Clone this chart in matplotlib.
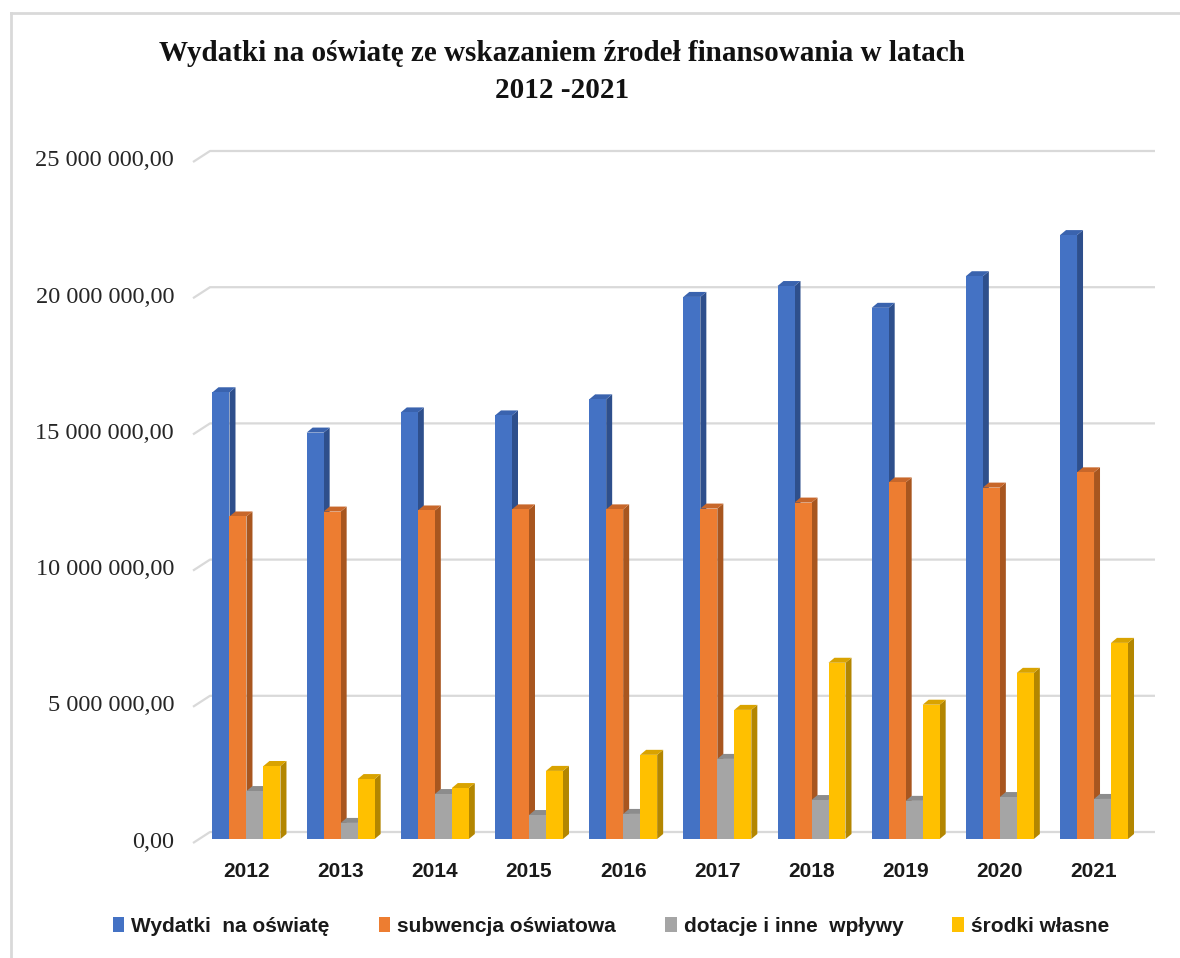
import matplotlib
matplotlib.use("Agg")
import matplotlib.pyplot as plt
from matplotlib.patches import Polygon, Patch
from matplotlib.lines import Line2D
import numpy as np

years = ["2012", "2013", "2014", "2015", "2016", "2017", "2018", "2019", "2020", "2021"]
wydatki = [16.40e6, 14.92e6, 15.66e6, 15.55e6, 16.14e6, 19.90e6, 20.30e6, 19.50e6, 20.66e6, 22.17e6]
subwencja = [11.84e6, 12.02e6, 12.06e6, 12.10e6, 12.10e6, 12.13e6, 12.35e6, 13.09e6, 12.90e6, 13.46e6]
dotacje = [1.76e6, 0.59e6, 1.65e6, 0.88e6, 0.92e6, 2.94e6, 1.43e6, 1.40e6, 1.54e6, 1.47e6]
srodki = [2.68e6, 2.20e6, 1.87e6, 2.50e6, 3.09e6, 4.74e6, 6.47e6, 4.93e6, 6.10e6, 7.20e6]
series_names = ["Wydatki  na oświatę", "subwencja oświatowa", "dotacje i inne  wpływy", "środki własne"]
yticks = [0, 5e6, 10e6, 15e6, 20e6, 25e6]
ytick_labels = ["0,00", "5 000 000,00", "10 000 000,00", "15 000 000,00", "20 000 000,00", "25 000 000,00"]
title = "Wydatki na oświatę ze wskazaniem źrodeł finansowania w latach\n2012 -2021"

front = ["#4472C4", "#ED7D31", "#A5A5A5", "#FFC000"]
side = ["#2E4F8C", "#A8561F", "#737373", "#B38600"]
topc = ["#3A63AE", "#C8672A", "#8C8C8C", "#D9A300"]

W, H = 1180, 958
fig = plt.figure(figsize=(W / 100, H / 100), dpi=100)

# pixel geometry
px_left, px_right, px_bottom, px_top = 193, 1155, 843, 151
ppm = 27.24e-6  # pixels per unit value
ppx = 94.2      # pixels per category
ax = fig.add_axes([px_left / W, 1 - px_bottom / H, (px_right - px_left) / W, (px_bottom - px_top) / H])
x0 = -(246.5 - px_left) / ppx
x1 = 9 + (px_right - 1094) / ppx
ax.set_xlim(x0, x1)
ax.set_ylim(0, (px_bottom - px_top) / ppm)
ax.axis("off")

# back-wall gridlines
back_dx = 17 / ppx
back_dy = 11 / ppm
for v in yticks:
    ax.plot([x0, x0 + back_dx, x1], [v, v + back_dy, v + back_dy], color="#D9D9D9",
            lw=1.6, clip_on=False, zorder=1, solid_capstyle="butt")

# bars with pseudo-3D depth
bw = 17 / ppx
ddx = 6 / ppx
ddy = 5 / ppm
base = 4 / ppm
data = [wydatki, subwencja, dotacje, srodki]
z = 2
for i in range(len(years)):
    for s in range(4):
        xl = i + (s - 2) * bw
        xr = xl + bw
        v = data[s][i]
        yb, yt = base, base + v
        ax.add_patch(Polygon([(xr, yb), (xr + ddx, yb + ddy), (xr + ddx, yt + ddy), (xr, yt)],
                             closed=True, facecolor=side[s], edgecolor="none", zorder=z))
        ax.add_patch(Polygon([(xl, yt), (xl + ddx, yt + ddy), (xr + ddx, yt + ddy), (xr, yt)],
                             closed=True, facecolor=topc[s], edgecolor="none", zorder=z))
        ax.bar(xl, v, width=bw, bottom=yb, align="edge", color=front[s], edgecolor="none", zorder=z + 1)
        z += 2

# y tick labels
for v, lab in zip(yticks, ytick_labels):
    fig.text(174 / W, 1 - (px_bottom - v * ppm - 1) / H, lab, ha="right", va="center",
             family="Liberation Serif", fontsize=17.5, color="#262626")

# x tick labels
for i, y in enumerate(years):
    ax.text(i, -1.05e6, y, ha="center", va="center", family="Liberation Sans",
            fontweight="bold", fontsize=15, color="#1a1a1a", clip_on=False)

# title
fig.text(562 / W, 1 - 72 / H, title, ha="center", va="center", family="Liberation Serif",
         fontweight="bold", fontsize=21, linespacing=1.45, color="#111111")

# legend
handles = [Patch(facecolor=c, edgecolor="none") for c in front]
leg = fig.legend(handles, series_names, loc="center", bbox_to_anchor=(611 / W, 1 - 926 / H),
                 ncol=4, frameon=False, handlelength=0.55, handleheight=0.75, handletextpad=0.35,
                 columnspacing=2.35, prop={"family": "Liberation Sans", "weight": "bold", "size": 15})
for t in leg.get_texts():
    t.set_color("#1a1a1a")

# chart border
fig.add_artist(Line2D([11 / W, 11 / W], [0, 1 - 13 / H], transform=fig.transFigure, color="#D9D9D9", lw=2))
fig.add_artist(Line2D([11 / W, 1], [1 - 13 / H, 1 - 13 / H], transform=fig.transFigure, color="#D9D9D9", lw=2))

fig.savefig("out.png", dpi=100)
